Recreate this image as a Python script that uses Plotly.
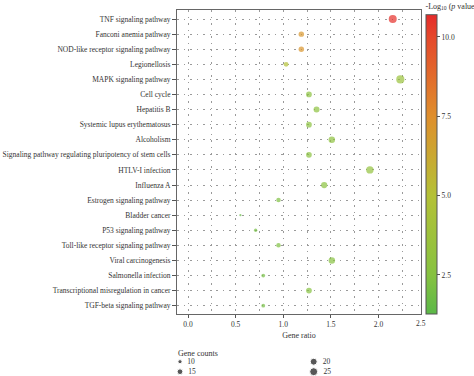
import plotly.graph_objects as go

pathways = [
    "TNF signaling pathway",
    "Fanconi anemia pathway",
    "NOD-like receptor signaling pathway",
    "Legionellosis",
    "MAPK signaling pathway",
    "Cell cycle",
    "Hepatitis B",
    "Systemic lupus erythematosus",
    "Alcoholism",
    "Signaling pathway regulating pluripotency of stem cells",
    "HTLV-I infection",
    "Influenza A",
    "Estrogen signaling pathway",
    "Bladder cancer",
    "P53 signaling pathway",
    "Toll-like receptor signaling pathway",
    "Viral carcinogenesis",
    "Salmonella infection",
    "Transcriptional misregulation in cancer",
    "TGF-beta signaling pathway",
]
gene_ratio = [2.15, 1.19, 1.19, 1.03, 2.23, 1.27, 1.35, 1.27, 1.51, 1.27,
              1.91, 1.43, 0.95, 0.55, 0.71, 0.95, 1.51, 0.79, 1.27, 0.79]
gene_counts = [25, 14, 14, 12, 26, 15, 16, 15, 18, 15,
               22, 17, 11, 6, 8, 11, 18, 9, 15, 9]
neg_log_p = [10.6, 7.1, 7.2, 5.0, 3.6, 2.8, 2.9, 2.8, 3.0, 2.7,
             3.2, 2.7, 2.3, 1.6, 2.0, 2.3, 2.6, 2.0, 2.5, 2.0]

legend_counts = [10, 15, 20, 25]
x_ticks = [0.0, 0.5, 1.0, 1.5, 2.0, 2.5]
cbar_ticks = [2.5, 5.0, 7.5, 10.0]

FONT = "Liberation Serif"
W, H = 474, 376
ML, MR, MT, MB = 177, 53, 10, 0
PH = H - MT - MB


def dot_size(c):
    return max(1.5, (3.11 * c - 13.8)) ** 0.5


colorscale = [
    [0.0, "#5bb848"],
    [0.13, "#86c240"],
    [0.396, "#b4c136"],
    [0.66, "#df8f2c"],
    [0.926, "#e5482b"],
    [1.0, "#e52b2a"],
]

ypos = list(range(len(pathways)))

fig = go.Figure()
fig.add_trace(go.Scatter(
    x=gene_ratio, y=ypos, mode="markers",
    marker=dict(
        size=[dot_size(c) for c in gene_counts],
        color=neg_log_p, colorscale=colorscale, cmin=1.27, cmax=10.7,
        line=dict(width=0),
        colorbar=dict(
            title=dict(text="-Log<sub>10</sub> (<i>p</i> value)", side="top",
                       font=dict(family=FONT, size=8, color="#333")),
            x=(426 - ML) / (W - ML - MR), xanchor="left", xpad=0, ypad=0,
            y=(H - 0) / PH, yanchor="top", lenmode="pixels", len=314,
            thickness=11, outlinewidth=1, outlinecolor="#555",
            ticks="outside", ticklen=3, tickcolor="#555",
            tickvals=cbar_ticks, ticktext=[f"{v:.1f}" for v in cbar_ticks],
            tickfont=dict(family=FONT, size=7.5, color="#333"),
        ),
    ),
    showlegend=False, hoverinfo="x+y",
))

# size key (Gene counts)
lx = [i // 2 for i in range(len(legend_counts))]
ly = [i % 2 for i in range(len(legend_counts))]
fig.add_trace(go.Scatter(
    x=lx, y=ly, mode="markers+text",
    text=["  " + str(c) for c in legend_counts], textposition="middle right",
    textfont=dict(family=FONT, size=7.5, color="#333"),
    marker=dict(size=[dot_size(c) for c in legend_counts], color="#111"),
    xaxis="x2", yaxis="y2", showlegend=False, hoverinfo="skip", cliponaxis=False,
))

grid_dash = "1.5px,5px"
main_bottom = (H - 314) / PH
fig.update_layout(
    width=W, height=H,
    margin=dict(l=ML, r=MR, t=MT, b=MB, autoexpand=False),
    paper_bgcolor="white", plot_bgcolor="white",
    font=dict(family=FONT, size=7.5, color="#333"),
    xaxis=dict(
        range=[-0.116, 2.447], domain=[0, 1], anchor="y",
        tickvals=x_ticks, ticktext=[f"{v:.1f}" for v in x_ticks],
        ticks="outside", ticklen=3, tickcolor="#555",
        showgrid=True, gridcolor="#9a9a9a", griddash=grid_dash, gridwidth=1,
        minor=dict(dtick=0.25, tick0=0, showgrid=True, gridcolor="#9a9a9a",
                   griddash=grid_dash, gridwidth=1),
        showline=True, linecolor="#666", linewidth=1, mirror=True,
        zeroline=False,
        title=dict(text="Gene ratio", font=dict(family=FONT, size=8, color="#333"),
                   standoff=4),
        tickfont=dict(family=FONT, size=7.5, color="#333"),
        automargin=False,
    ),
    yaxis=dict(
        range=[19.55, -0.6], domain=[main_bottom, 1], anchor="x",
        tickvals=ypos, ticktext=pathways,
        ticks="outside", ticklen=4, tickcolor="#555",
        showgrid=True, gridcolor="#9a9a9a", griddash=grid_dash, gridwidth=1,
        showline=True, linecolor="#666", linewidth=1, mirror=True,
        zeroline=False,
        tickfont=dict(family=FONT, size=7.5, color="#333"),
        automargin=False,
    ),
    xaxis2=dict(domain=[0, 1], range=[-0.0224, 1.8025], anchor="y2",
                visible=False, fixedrange=True),
    yaxis2=dict(domain=[0, (H - 345) / PH], range=[1.43, -1.67], anchor="x2",
                visible=False, fixedrange=True),
    annotations=[
        dict(text="Gene counts", x=-0.004, y=(H - 353) / PH,
             xref="paper", yref="paper",
             xanchor="left", yanchor="middle", showarrow=False,
             font=dict(family=FONT, size=8, color="#333")),
        dict(text="2.5", x=1, y=main_bottom, xref="paper", yref="paper",
             xanchor="center", yanchor="top", yshift=-3, showarrow=False,
             font=dict(family=FONT, size=7.5, color="#333")),
    ],
)

fig.write_html(
    "out.html",
    config={"displayModeBar": False},
    post_script="document.body.style.margin='0';document.body.style.overflow='hidden';",
)
